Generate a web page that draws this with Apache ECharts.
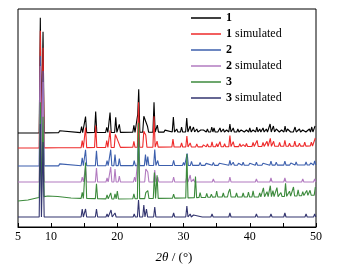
<!DOCTYPE html>
<html>
<head>
<meta charset="utf-8">
<script src="https://cdn.jsdelivr.net/npm/echarts@6/dist/echarts.min.js"></script>
<style>
html, body { margin: 0; padding: 0; background: #fff; }
#chart { width: 339px; height: 269px; }
</style>
</head>
<body>
<div id="chart"></div>
<script>
// series names and colours
var seriesNames = ['1', '1 simulated', '2', '2 simulated', '3', '3 simulated'];
var seriesColors = ['#000000', '#ee2a2a', '#3c5fad', '#b27bc0', '#3c8a3c', '#33356f'];
var xLabels = [5, 10, 20, 30, 40, 50];

// background level of each trace [2theta, level]
var bg1 = [[5, 94], [30, 95], [50, 95]];
var bg1sim = [[5, 79], [30, 80], [50, 81]];
var bg2 = [[5, 61], [50, 62]];
var bg2sim = [[5, 45], [50, 45]];
var bg3 = [[5, 26], [6.5, 27], [7.8, 29], [9.5, 31], [11, 30.5], [13, 29], [15, 28.5], [20, 28], [25, 28.5], [30, 29], [35, 30], [40, 30], [45, 30.5], [50, 32]];
var bg3sim = [[5, 10], [50, 10]];

// peaks [2theta, height above background]
var peaks1 = [[8.37, 115], [8.78, 101], [11.3, 2], [14.6, 6], [15.2, 16], [16.73, 21], [18.4, 5], [18.9, 20],
  [19.76, 15], [20.3, 8], [22.5, 7], [23.08, 18], [23.23, 43], [24.0, 16], [24.3, 14], [24.55, 6], [25.54, 30],
  [26.04, 7], [27.2, 2], [28.46, 15], [28.97, 3], [29.7, 5], [30.48, 14], [31.0, 6], [31.5, 5], [32.0, 3], [32.6, 2],
  [33.0, 2], [33.6, 3], [34.26, 5], [34.6, 4], [35.0, 2], [35.5, 4], [36.0, 3], [36.5, 2], [37.0, 8], [37.5, 4],
  [38.2, 3], [38.7, 2], [39.0, 3], [39.5, 2], [40.0, 4], [40.5, 2], [41.06, 5], [41.5, 3], [42.0, 4], [42.5, 3],
  [43.07, 8], [43.57, 6], [44.0, 3], [44.3, 4], [44.8, 2], [45.33, 6], [45.7, 3], [46.0, 3], [46.4, 2], [46.84, 5],
  [47.2, 2], [47.5, 3], [48.0, 2], [48.3, 4], [48.7, 2], [49.0, 3], [49.36, 5], [49.86, 6]];
var peaks1sim = [[8.37, 117], [8.78, 100], [11.3, 1], [14.7, 7], [15.2, 20], [16.73, 22], [18.4, 7], [18.9, 17],
  [19.7, 13], [20.0, 8], [20.3, 6], [22.5, 6], [23.2, 45], [24.0, 16], [24.3, 12], [25.54, 31], [26.0, 6], [28.4, 8],
  [29.7, 4], [30.5, 11], [31.0, 4], [32.0, 3], [33.0, 2], [33.6, 3], [34.3, 5], [35.0, 3], [35.5, 5], [36.2, 3],
  [37.0, 11], [37.5, 5], [38.5, 3], [39.0, 2], [39.5, 3], [40.5, 4], [41.1, 6], [42.0, 4], [42.6, 5], [43.1, 8],
  [43.6, 5], [44.5, 4], [45.3, 6], [46.0, 3], [46.8, 5], [47.5, 3], [48.3, 4], [49.3, 4], [49.9, 8]];
var peaks2 = [[8.37, 110], [8.78, 95], [11.3, 2], [14.7, 8], [15.2, 16], [16.85, 15], [18.45, 5], [19.0, 16],
  [19.65, 11], [20.3, 7], [22.55, 5], [23.2, 30], [24.25, 11], [24.6, 9], [25.65, 16], [26.1, 5], [28.5, 5],
  [30.0, 3], [30.55, 12], [31.2, 4], [32.5, 3], [33.4, 2], [34.5, 3], [35.4, 2], [37.0, 5], [37.5, 3], [38.3, 2],
  [39.0, 3], [40.0, 2], [41.0, 3], [42.0, 2], [43.2, 4], [44.0, 3], [45.3, 4], [46.2, 2], [47.0, 3], [48.5, 3],
  [49.2, 2], [49.8, 4]];
var peaks2sim = [[8.37, 116], [8.78, 100], [11.3, 1], [14.7, 5], [15.2, 15], [16.85, 14], [18.45, 4], [19.0, 15],
  [19.65, 13], [20.3, 6], [22.6, 5], [23.2, 30], [24.3, 13], [24.6, 10], [25.65, 12], [26.1, 5], [28.5, 5],
  [30.5, 6], [31.0, 7], [31.5, 3], [33.0, 2], [34.5, 3], [35.5, 2], [37.0, 5], [38.0, 2], [40.0, 2], [41.0, 3],
  [43.2, 4], [44.3, 2], [45.3, 4], [46.5, 2], [48.0, 3], [49.0, 2], [49.8, 3]];
var peaks3 = [[8.37, 95], [8.78, 80], [14.7, 6], [15.2, 36], [16.85, 15], [18.45, 4], [19.0, 6], [19.65, 5],
  [20.0, 8], [22.5, 5], [23.2, 76], [24.3, 6], [24.6, 8], [25.6, 26], [26.0, 23], [28.5, 4], [30.5, 44], [31.8, 21],
  [32.5, 5], [33.5, 4], [34.2, 3], [35.0, 6], [36.0, 4], [36.8, 5], [37.0, 8], [38.0, 4], [39.0, 4], [39.8, 5],
  [40.5, 6], [41.5, 4], [42.06, 9], [42.6, 5], [43.1, 11], [43.5, 6], [44.1, 9], [44.7, 4], [45.4, 13], [46.0, 5],
  [46.6, 9], [47.3, 6], [48.0, 4], [48.6, 5], [49.1, 5], [49.9, 8]];
var peaks3sim = [[8.37, 93], [8.78, 75], [11.3, 1], [14.7, 8], [15.2, 8], [16.85, 8], [18.45, 3], [19.05, 7],
  [19.65, 4], [20.3, 2], [22.55, 3], [23.2, 17], [24.0, 12], [24.4, 8], [25.65, 10], [26.1, 2], [28.5, 4],
  [30.5, 11], [31.0, 3], [31.5, 2], [33.0, 2], [34.3, 3], [35.5, 2], [37.0, 4], [38.0, 2], [39.5, 2], [41.0, 3],
  [42.5, 2], [43.2, 3], [44.3, 2], [45.3, 4], [46.5, 2], [47.5, 2], [48.5, 3], [49.8, 3]];

var backgrounds = [bg1, bg1sim, bg2, bg2sim, bg3, bg3sim];
var peakLists = [peaks1, peaks1sim, peaks2, peaks2sim, peaks3, peaks3sim];

// join background and peak tips into one polyline
function buildPattern(bg, peaks) {
    var w = 0.17;
    var level = function (x) {
        for (var i = 1; i < bg.length; i++) {
            if (x <= bg[i][0]) {
                var a = bg[i - 1], b = bg[i];
                return a[1] + (b[1] - a[1]) * (x - a[0]) / (b[0] - a[0]);
            }
        }
        return bg[bg.length - 1][1];
    };
    var insidePeak = function (x) {
        return peaks.some(function (p) { return Math.abs(x - p[0]) < w - 1e-6; });
    };
    var pts = [];
    bg.forEach(function (b) {
        if (!insidePeak(b[0])) pts.push([b[0], b[1]]);
    });
    peaks.forEach(function (p) {
        pts.push([p[0], level(p[0]) + p[1]]);
        [p[0] - w, p[0] + w].forEach(function (x) {
            if (x > 5 && x < 50 && !insidePeak(x)) pts.push([x, level(x)]);
        });
    });
    pts.sort(function (a, b) { return a[0] - b[0]; });
    return pts;
}

var chart = echarts.init(document.getElementById('chart'));
var serif = '"Liberation Serif", "Times New Roman", serif';

var series = seriesNames.map(function (name, i) {
    return {
        name: name,
        type: 'line',
        data: buildPattern(backgrounds[i], peakLists[i]),
        showSymbol: false,
        symbol: 'none',
        lineStyle: { color: seriesColors[i], width: 1.1 },
        itemStyle: { color: seriesColors[i] }
    };
});

chart.setOption({
    animation: false,
    grid: {
        left: 18, right: 23, top: 9, bottom: 42,
        show: true, borderColor: '#000', borderWidth: 1
    },
    legend: {
        orient: 'vertical',
        left: 191,
        top: 11,
        padding: 0,
        itemGap: 2,
        itemWidth: 30,
        itemHeight: 1.5,
        icon: 'rect',
        data: seriesNames,
        formatter: function (name) {
            return name.replace(/^(\d)/, '{b|$1}');
        },
        textStyle: {
            fontFamily: serif, fontSize: 12, color: '#000', lineHeight: 14,
            rich: { b: { fontFamily: serif, fontSize: 12, fontWeight: 'bold', color: '#000' } }
        }
    },
    xAxis: {
        type: 'value',
        min: 5,
        max: 50,
        interval: 5,
        name: '{i|2θ} / (°)',
        nameLocation: 'middle',
        nameGap: 24,
        nameTextStyle: {
            fontFamily: serif, fontSize: 13, color: '#000', padding: [0, 0, 0, 14],
            rich: { i: { fontFamily: serif, fontSize: 13, fontStyle: 'italic', color: '#000' } }
        },
        axisLine: { lineStyle: { color: '#000', width: 1 } },
        axisTick: { inside: true, length: 4, lineStyle: { color: '#000' } },
        axisLabel: {
            fontFamily: serif, fontSize: 12, color: '#000', margin: 4,
            formatter: function (v) { return xLabels.indexOf(v) >= 0 ? String(v) : ''; }
        },
        splitLine: { show: false }
    },
    yAxis: {
        type: 'value',
        min: 0,
        max: 218,
        show: false
    },
    series: series
});
</script>
</body>
</html>
